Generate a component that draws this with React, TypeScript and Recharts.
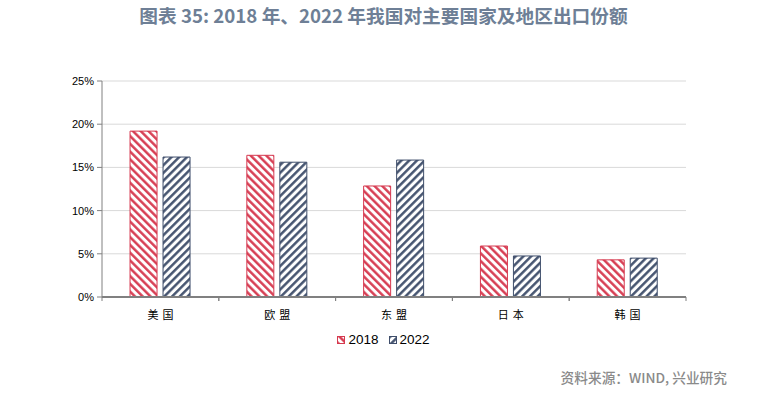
import React from 'react';
import { BarChart, Bar, XAxis, YAxis, CartesianGrid } from 'recharts';

const categories = ['美国', '欧盟', '东盟', '日本', '韩国'];
const share2018 = [19.2, 16.4, 12.85, 5.9, 4.3];
const share2022 = [16.2, 15.6, 15.85, 4.75, 4.5];
const yTicks = [0, 5, 10, 15, 20, 25];
const seriesNames = ['2018', '2022'];

const RED = '#d6394f';
const NAVY = '#3f4e6b';

const data = categories.map((c, i) => ({ name: c, a: share2018[i], b: share2022[i] }));

const CatTick = (props: any) => {
  const { x, y, payload } = props;
  const half = payload && payload.offset ? payload.offset : 0;
  return (
    <g>
      <line x1={x - half} x2={x - half} y1={y} y2={y + 4} stroke="#808080" />
      <line x1={x + half} x2={x + half} y1={y} y2={y + 4} stroke="#808080" />
      <text x={x} dx={2} y={y + 22} textAnchor="middle" fill="#000" fontSize={11} letterSpacing={4} fontFamily='"Noto Sans CJK SC", sans-serif'>
        {payload.value}
      </text>
    </g>
  );
};

export default function App() {
  return (
    <div style={{ position: 'absolute', left: 0, top: 0, width: 767, height: 396, background: '#fff' }}>
      <div style={{ position: 'absolute', left: 0, top: 1, width: 767, textAlign: 'center', fontFamily: '"Noto Sans CJK SC", "Noto Sans", sans-serif', fontWeight: 700, fontSize: 18.7, color: '#6e7f96' }}>
        图表 35: 2018 年、2022 年我国对主要国家及地区出口份额
      </div>
      <BarChart width={767} height={396} data={data} margin={{ top: 81, right: 81, bottom: 69, left: 62 }} barCategoryGap="24%" barGap={6}>
        <defs>
          <pattern id="p2018" patternUnits="userSpaceOnUse" width="5.5" height="5.5" patternTransform="rotate(-45)">
            <rect width="5.5" height="5.5" fill="#fff" />
            <line x1="1.3" y1="0" x2="1.3" y2="5.5" stroke={RED} strokeWidth="2.4" />
          </pattern>
          <pattern id="p2022" patternUnits="userSpaceOnUse" width="5.5" height="5.5" patternTransform="rotate(45)">
            <rect width="5.5" height="5.5" fill="#fff" />
            <line x1="1.3" y1="0" x2="1.3" y2="5.5" stroke={NAVY} strokeWidth="2.4" />
          </pattern>
        </defs>
        <CartesianGrid vertical={false} stroke="#d9d9d9" strokeWidth={1} />
        <XAxis dataKey="name" height={30} axisLine={{ stroke: '#808080', strokeWidth: 2 }} tickLine={false} tickSize={0} tickMargin={0} tick={CatTick} interval={0} />
        <YAxis domain={[0, 25]} ticks={yTicks} width={40} tickFormatter={(v: number) => v + '%'} axisLine={{ stroke: '#808080' }} tickLine={{ stroke: '#808080' }} tickSize={5} tickMargin={3} tick={{ fill: '#000', fontSize: 11, fontFamily: 'Arial, "Liberation Sans", sans-serif' }} />
        <Bar dataKey="a" name={seriesNames[0]} fill="url(#p2018)" stroke={RED} strokeWidth={1} isAnimationActive={false} />
        <Bar dataKey="b" name={seriesNames[1]} fill="url(#p2022)" stroke={NAVY} strokeWidth={1} isAnimationActive={false} />
      </BarChart>
      <div style={{ position: 'absolute', top: 332, left: 0, width: 767, display: 'flex', justifyContent: 'center', fontFamily: 'Arial, "Liberation Sans", sans-serif', fontSize: 13.5, color: '#000' }}>
        {seriesNames.map((n, i) => (
          <div key={n} style={{ display: 'flex', alignItems: 'center', marginRight: i === 0 ? 10 : 0 }}>
            <svg width={8} height={8} style={{ marginRight: 3 }}>
              <rect x={0.5} y={0.5} width={7} height={7} fill={i === 0 ? 'url(#p2018)' : 'url(#p2022)'} stroke={i === 0 ? RED : NAVY} />
            </svg>
            <span>{n}</span>
          </div>
        ))}
      </div>
      <div style={{ position: 'absolute', top: 367, right: 40, fontFamily: '"Noto Sans CJK SC", sans-serif', fontSize: 13.7, fontWeight: 500, color: '#8a8a8a' }}>
        资料来源：WIND, 兴业研究
      </div>
    </div>
  );
}
